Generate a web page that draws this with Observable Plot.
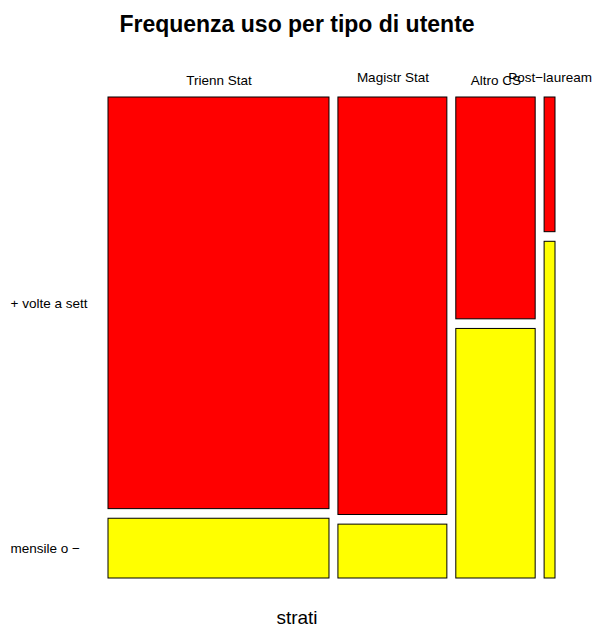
<!DOCTYPE html>
<html><head><meta charset="utf-8">
<script src="https://cdn.jsdelivr.net/npm/d3@7"></script>
<script src="https://cdn.jsdelivr.net/npm/@observablehq/plot@0.6"></script>
<style>body{margin:0;background:#fff} svg{display:block}</style>
</head><body><div id="chart"></div>
<script>
const strati = ["Trienn Stat", "Magistr Stat", "Altro CS", "Post−lauream"];
const frequenze = ["+ volte a sett", "mensile o −"];
const piuVolte = [124, 62, 24, 2];
const mensile = [18, 8, 27, 5];
const colori = ["#FF0000", "#FFFF00"];
const titolo = "Frequenza uso per tipo di utente";
const xLabel = "strati";

// mosaic layout (R mosaicplot style, with gaps)
const gap = 0.02;
const totals = strati.map((s, i) => piuVolte[i] + mensile[i]);
const N = d3.sum(totals);
const avail = 1 - gap * (strati.length - 1);
const cells = [], cols = [];
let x = 0;
strati.forEach((s, i) => {
  const w = totals[i] / N * avail;
  const vals = [piuVolte[i], mensile[i]];
  const hAvail = 1 - gap * (vals.length - 1);
  let y = 0;
  vals.forEach((v, j) => {
    const h = v / totals[i] * hAvail;
    cells.push({strato: s, freq: frequenze[j], x1: x, x2: x + w, y1: y, y2: y + h, col: i});
    y += h + gap;
  });
  cols.push({strato: s, xm: x + w / 2, i});
  x += w + gap;
});
const rowLabels = cells.filter(d => d.col === 0).map(d => ({label: d.freq, ym: (d.y1 + d.y2) / 2}));

const chart = Plot.plot({
  width: 593,
  height: 628,
  margin: 0,
  style: {fontFamily: "'Liberation Sans', Arial, Helvetica, sans-serif", background: "#fff", color: "#000"},
  x: {domain: [0, 1], range: [108, 555], axis: null},
  y: {domain: [0, 1], range: [97, 578], axis: null},
  color: {type: "ordinal", domain: frequenze, range: colori},
  marks: [
    Plot.rect(cells, {x1: "x1", x2: "x2", y1: "y1", y2: "y2", fill: "freq", stroke: "#000", strokeWidth: 1}),
    Plot.text(cols.filter(d => d.i % 2 === 0), {x: "xm", text: "strato", frameAnchor: "top", dy: 80, lineAnchor: "middle", fontSize: 13.5, fill: "#000"}),
    Plot.text(cols.filter(d => d.i % 2 === 1), {x: "xm", text: "strato", frameAnchor: "top", dy: 77, lineAnchor: "middle", fontSize: 13.5, fill: "#000"}),
    Plot.text(rowLabels, {y: "ym", text: "label", frameAnchor: "left", dx: 10, textAnchor: "start", lineAnchor: "middle", fontSize: 13.5, fill: "#000"}),
    Plot.text([titolo], {text: d => d, frameAnchor: "top", dy: 24, lineAnchor: "middle", fontSize: 23, fontWeight: "bold", fill: "#000"}),
    Plot.text([xLabel], {text: d => d, frameAnchor: "top", dy: 617, lineAnchor: "middle", fontSize: 19, fill: "#000"})
  ]
});
document.getElementById("chart").appendChild(chart);
</script>
</body></html>
